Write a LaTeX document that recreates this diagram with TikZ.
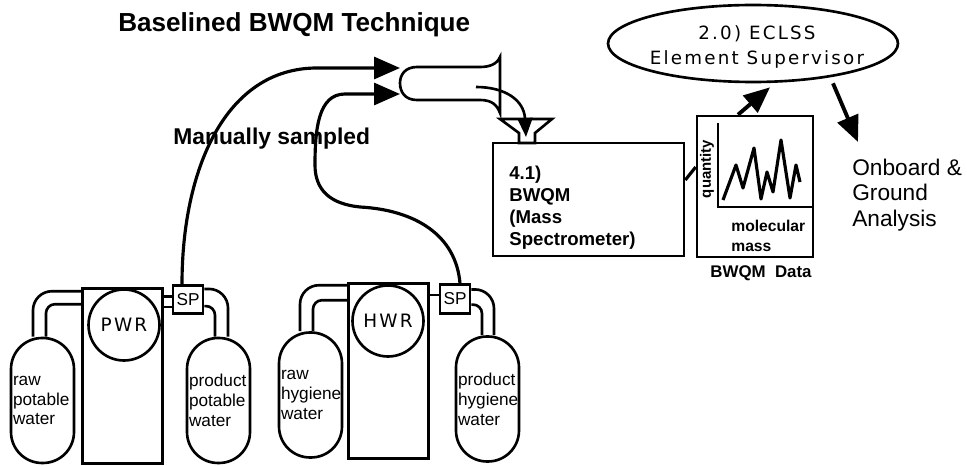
\documentclass[tikz,border=0pt]{standalone}
\usepackage{fontspec}
\usepackage{tikz,amsmath}
\usetikzlibrary{shapes,arrows.meta}
\setmainfont{Liberation Sans}
\newfontfamily\widefont[LetterSpace=12]{DejaVu Sans}

\tikzset{
    wall/.style = {draw, line width = 1.5pt, rectangle, inner sep = 0pt},
    unit/.style = {wall, minimum width = 1.6cm, minimum height = 3.5cm},
    sampleport/.style = {wall, minimum width = 0.6cm, minimum height = 0.57cm, font = \fontsize{9.8}{11}\selectfont},
    reactor/.style = {draw, line width = 1.5pt, circle, minimum size = 1.42cm, inner sep = 0pt, font = \widefont\fontsize{10.5}{12}\selectfont},
    tank/.style = {wall, rounded corners = 0.62cm, text width = 1.18cm, inner xsep = 0.04cm, minimum height = 2.5cm, align = left, font = \fontsize{9.8}{11.3}\selectfont},
    pipeout/.style = {line width = 1.5pt, rounded corners = 0.38cm},
    pipein/.style = {line width = 1.5pt, rounded corners = 0.18cm},
    flow/.style = {line width = 1.8pt, -{Triangle[length = 0.52cm, width = 0.44cm]}},
    smallflow/.style = {line width = 1.5pt, -{Triangle[length = 0.38cm, width = 0.3cm]}},
    label/.style = {inner sep = 0pt, anchor = west, align = left}
}

\begin{document}
\begin{tikzpicture}[x = 0.02cm, y = -0.02cm]
    \useasboundingbox (0,0) rectangle (967,466);

    \node [label, font = \bfseries\fontsize{14.85}{16}\selectfont] (title) at (118,25) {Baselined BWQM Technique};

    \node [unit] (pwr) at (122.5,376) {};
    \node [reactor] (pwrcircle) at (124,325) {PWR};
    \node [sampleport] (sppwr) at (188,299.5) {SP};
    \node [tank] (rawp) at (42.5,400.5) {raw\\potable\\water};
    \node [tank] (prodp) at (218.5,400.5) {product\\potable\\water};

    \draw [pipeout] ([xshift = -0.19cm]rawp.north) |- ([yshift = -0.08cm]pwr.north west);
    \draw [pipein] ([xshift = 0.07cm]rawp.north) |- ([yshift = -0.34cm]pwr.north west);
    \draw [pipeout] ([xshift = 0.19cm]prodp.north) |- ([yshift = -0.1cm]sppwr.north east);
    \draw [pipein] ([xshift = -0.07cm]prodp.north) |- ([yshift = 0.18cm]sppwr.south east);
    \draw [line width = 1.5pt] ([yshift = 0.06cm]sppwr.west) -- ([yshift = 0.06cm]sppwr.west -| pwr.east);
    \draw [line width = 1.5pt] ([yshift = -0.15cm]sppwr.west) -- ([yshift = -0.15cm]sppwr.west -| pwr.east);

    \node [unit] (hwr) at (388.5,371) {};
    \node [reactor] (hwrcircle) at (388,321) {HWR};
    \node [sampleport] (sphwr) at (455,299) {SP};
    \node [tank] (rawh) at (310.5,395) {raw\\hygiene\\water};
    \node [tank] (prodh) at (487.5,399) {product\\hygiene\\water};

    \draw [pipeout] ([xshift = -0.21cm]rawh.north) |- ([yshift = -0.06cm]hwr.north west);
    \draw [pipein] ([xshift = 0.05cm]rawh.north) |- ([yshift = -0.36cm]hwr.north west);
    \draw [pipeout] ([xshift = 0.13cm]prodh.north) |- ([yshift = -0.12cm]sphwr.north east);
    \draw [pipein] ([xshift = -0.11cm]prodh.north) |- ([yshift = 0.2cm]sphwr.south east);
    \draw [line width = 1.5pt] ([yshift = 0.08cm]sphwr.west) -- ([yshift = 0.08cm]sphwr.west -| hwr.east);

    \coordinate (bulbup) at (400,68);
    \coordinate (bulblow) at (400,94);
    \coordinate (bulbout) at (476,87);
    \coordinate (funneltip) at (526,137);

    \draw [line width = 1.5pt] (500,57) .. controls (497,64) and (490,67) .. (480,67) -- (417,67) .. controls (405,67) and (400,75) .. (400,83) .. controls (400,92) and (405,100) .. (417,100) -- (480,100) .. controls (492,100) and (497,105) .. (500,113) -- cycle;

    \draw [flow] (sppwr.north -| 182,0) .. controls (182,170) and (225,68) .. (317,68) -- (bulbup);
    \draw [flow] ([xshift = 0.1cm]sphwr.north) .. controls (456,235) and (415,210) .. (360,207) .. controls (330,204) and (315,190) .. (315,165) .. controls (315,130) and (318,94) .. (345,94) -- (bulblow);

    \node [label, font = \bfseries\fontsize{13}{14}\selectfont] (sampled) at (173,139) {Manually sampled};

    \node [wall, minimum width = 3.82cm, minimum height = 2.26cm] (bwqm) at (588.5,199.5) {};
    \node [label, font = \bfseries\fontsize{10.6}{12.5}\selectfont] (bwqmtext) at (509,208) {4.1)\\BWQM\\(Mass\\Spectrometer)};

    \draw [line width = 1.5pt] (500,119) -- (552,119) -- (535,133) -- (535,143) -- (519,143) -- (519,133) -- cycle;
    \draw [smallflow] (bulbout) .. controls (505,87) and (524,100) .. (funneltip);

    \node [wall, minimum width = 2.32cm, minimum height = 2.82cm] (data) at (755,186.5) {};
    \draw [line width = 1.8pt] ([yshift = 0.39cm]bwqm.east) -- ([yshift = 0.39cm]data.west);

    \draw [line width = 1.5pt] (718,123) -- (718,207) -- (data.east |- 0,207);
    \draw [line width = 1.8pt, line join = round] (723,200) -- (736,165) -- (743,188) -- (754,148) -- (761,199) -- (767,172) -- (773,192) -- (781,140) -- (790,198) -- (796,165) -- (800,182);

    \node [inner sep = 0pt, rotate = 90, font = \bfseries\fontsize{8.5}{10}\selectfont] (quantity) at (707,169) {quantity};
    \node [label, font = \bfseries\fontsize{8.9}{11.3}\selectfont] (mass) at (731,236) {molecular\\mass};
    \node [inner sep = 0pt, font = \bfseries\fontsize{9.6}{11}\selectfont] (datalabel) at (761,273) {BWQM\ \ Data};

    \node [draw, line width = 1.5pt, ellipse, minimum width = 5.8cm, minimum height = 1.54cm, inner sep = 0pt] (supervisor) at (753,43.5) {};
    \node [inner sep = 0pt, align = center, font = \widefont\fontsize{10.4}{14.2}\selectfont] (supervisortext) at (757,47) {2.0) ECLSS\\Element Supervisor};

    \node [label, font = \fontsize{12.9}{14.7}\selectfont] (onboard) at (852,195) {Onboard \&\\Ground\\Analysis};
    \coordinate (onboardtip) at (858,142);

    \draw [flow, line width = 2.2pt] ([xshift = -0.34cm]data.north) -- ([shift = {(0.34cm,-0.08cm)}]supervisor.south);
    \draw [flow, line width = 2.2pt] ([xshift = 1.6cm]supervisor.south) -- (onboardtip);
\end{tikzpicture}
\end{document}
